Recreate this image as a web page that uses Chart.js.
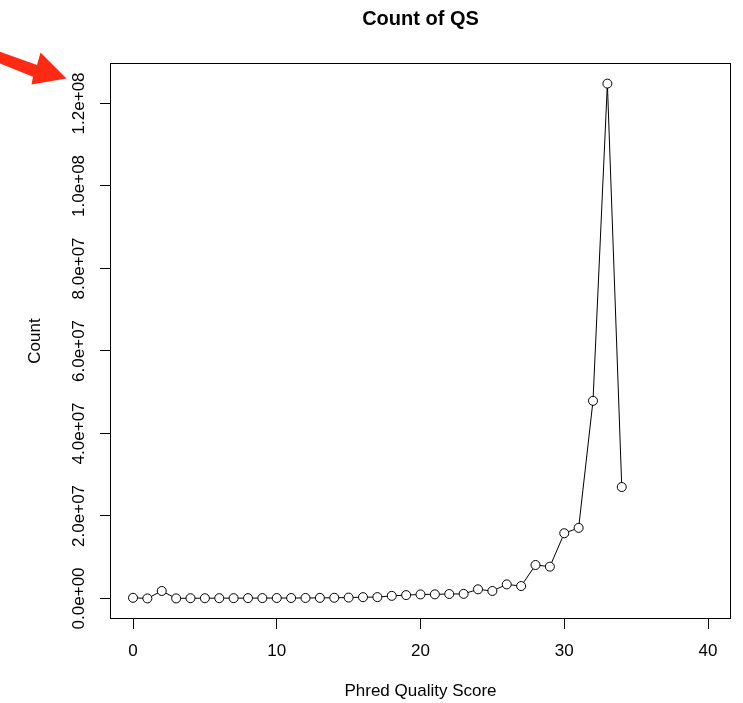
<!DOCTYPE html>
<html>
<head>
<meta charset="utf-8">
<script src="https://cdn.jsdelivr.net/npm/chart.js@4.4.1/dist/chart.umd.min.js"></script>
<style>
  html, body { margin: 0; padding: 0; background: #ffffff; }
  #wrap { width: 743px; height: 703px; }
</style>
</head>
<body>
<div id="wrap"><canvas id="c" width="743" height="703"></canvas></div>
<script>
// ---- data ----
const qualityScores = [0,1,2,3,4,5,6,7,8,9,10,11,12,13,14,15,16,17,18,19,20,21,22,23,24,25,26,27,28,29,30,31,32,33,34];
const counts = [
  150000, 0, 1800000, 0, 50000, 50000, 60000, 60000, 70000, 80000,
  90000, 100000, 110000, 130000, 160000, 200000, 300000, 320000, 620000, 800000,
  970000, 980000, 1070000, 1100000, 2200000, 1800000, 3400000, 3000000, 8100000, 7700000,
  15800000, 17100000, 47900000, 124800000, 27000000
];
const xTickValues = [0, 10, 20, 30, 40];
const yTickValues = [0, 20000000, 40000000, 60000000, 80000000, 100000000, 120000000];
const yTickLabels = ["0.0e+00", "2.0e+07", "4.0e+07", "6.0e+07", "8.0e+07", "1.0e+08", "1.2e+08"];
const titleText = "Count of QS";
const xTitle = "Phred Quality Score";
const yTitle = "Count";

const FONT = '"Liberation Sans", Arial, Helvetica, sans-serif';

const points = qualityScores.map((q, i) => ({ x: q, y: counts[i] }));

const decorPlugin = {
  id: 'decor',
  afterDraw(chart) {
    const ctx = chart.ctx;
    const a = chart.chartArea;
    ctx.save();
    // plot box
    ctx.strokeStyle = '#000';
    ctx.lineWidth = 1;
    ctx.strokeRect(Math.round(a.left) + 0.5, Math.round(a.top) + 0.5,
                   Math.round(a.right - a.left) - 1, Math.round(a.bottom - a.top) - 1);
    // main title
    ctx.fillStyle = '#000';
    ctx.font = 'bold 20px ' + FONT;
    ctx.textAlign = 'center';
    ctx.textBaseline = 'middle';
    ctx.fillText(titleText, (a.left + a.right) / 2, 19);
    // red annotation arrow
    ctx.fillStyle = '#ff2a14';
    ctx.beginPath();
    ctx.moveTo(-5, 49.9);
    ctx.lineTo(37, 65);
    ctx.lineTo(40.5, 52.5);
    ctx.lineTo(66.5, 78.5);
    ctx.lineTo(31.5, 84.5);
    ctx.lineTo(33, 76.7);
    ctx.lineTo(-5, 61.5);
    ctx.closePath();
    ctx.fill();
    ctx.restore();
  }
};

new Chart(document.getElementById('c'), {
  type: 'line',
  data: {
    datasets: [{
      data: points,
      borderColor: '#000',
      borderWidth: 1,
      pointRadius: 4.5,
      pointHoverRadius: 4.5,
      pointBorderWidth: 1,
      pointBorderColor: '#000',
      pointBackgroundColor: '#fff',
      tension: 0,
      fill: false
    }]
  },
  options: {
    responsive: false,
    animation: false,
    events: [],
    layout: { padding: { top: 63, right: 12, left: 0, bottom: 0 } },
    plugins: { legend: { display: false }, tooltip: { enabled: false }, title: { display: false } },
    scales: {
      x: {
        type: 'linear',
        min: -1.6,
        max: 41.6,
        afterBuildTicks(scale) { scale.ticks = xTickValues.map(v => ({ value: v })); },
        afterFit(scale) { scale.height = 84; },
        border: { display: false },
        grid: { drawOnChartArea: false, drawTicks: true, tickLength: 10, color: '#000', lineWidth: 1 },
        ticks: { color: '#000', font: { family: FONT, size: 17 }, padding: 12, maxRotation: 0, autoSkip: false },
        title: { display: true, text: xTitle, color: '#000', font: { family: FONT, size: 17 }, padding: { top: 0, bottom: 1 } }
      },
      y: {
        type: 'linear',
        min: -4990000,
        max: 129800000,
        afterBuildTicks(scale) { scale.ticks = yTickValues.map(v => ({ value: v })); },
        afterFit(scale) { scale.width = 110; },
        border: { display: false },
        grid: { drawOnChartArea: false, drawTicks: true, tickLength: 10, color: '#000', lineWidth: 1 },
        ticks: {
          color: '#000', font: { family: FONT, size: 17 }, padding: -10, autoSkip: false,
          minRotation: 90, maxRotation: 90, crossAlign: 'center',
          callback(value) { const i = yTickValues.indexOf(value); return i >= 0 ? yTickLabels[i] : ''; }
        },
        title: { display: true, text: yTitle, color: '#000', font: { family: FONT, size: 17 }, padding: { top: 25, bottom: 0 } }
      }
    }
  },
  plugins: [decorPlugin]
});
</script>
</body>
</html>
